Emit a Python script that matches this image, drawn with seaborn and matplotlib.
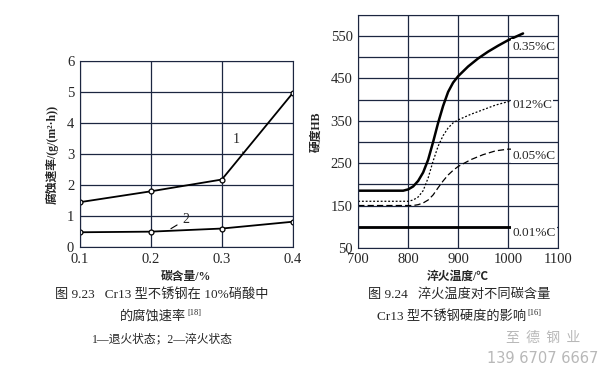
import numpy as np
import pandas as pd
import matplotlib
matplotlib.use("Agg")
import matplotlib.pyplot as plt
import seaborn as sns

# --- Fig 9.23: corrosion rate vs carbon content ---
carbon = [0.1, 0.2, 0.3, 0.4]
rate_annealed = [1.45, 1.8, 2.18, 4.97]   # 1 - annealed
rate_quenched = [0.48, 0.5, 0.6, 0.82]    # 2 - quenched

# --- Fig 9.24: hardness vs quench temperature ---
temp_035 = [700, 790, 800, 810, 820, 830, 840, 850, 860, 870, 880, 890, 900, 920, 940, 960, 980, 1000, 1030]
hb_035 = [185, 185, 188, 195, 208, 228, 258, 300, 345, 385, 418, 440, 455, 478, 497, 513, 527, 540, 556]
temp_012 = [700, 800, 810, 820, 830, 840, 850, 860, 870, 880, 890, 900, 925, 950, 975, 1000, 1010]
hb_012 = [160, 160, 163, 170, 185, 215, 255, 290, 315, 333, 345, 352, 365, 376, 387, 395, 398]
temp_005 = [700, 810, 820, 830, 840, 850, 860, 870, 880, 890, 900, 925, 950, 975, 1000, 1010]
hb_005 = [150, 150, 152, 156, 163, 175, 192, 208, 222, 233, 242, 258, 270, 279, 283, 283]
temp_001 = [700, 1010]
hb_001 = [100, 100]

df1 = pd.DataFrame({"c": carbon + carbon,
                    "rate": rate_annealed + rate_quenched,
                    "state": ["1"] * 4 + ["2"] * 4})

sns.set_style("white")
plt.rcParams["font.family"] = ["Liberation Serif", "Noto Sans CJK SC", "DejaVu Sans"]
plt.rcParams["axes.unicode_minus"] = False
grid_c = "#1c2640"
cjk = ["Liberation Serif", "Noto Sans CJK SC"]

fig = plt.figure(figsize=(6, 3.7), dpi=100)

# left chart
ax1 = fig.add_axes([0.133, 0.332, 0.355, 0.503])
sns.lineplot(data=df1, x="c", y="rate", units="state", estimator=None, color="black",
             lw=1.3, marker="o", markersize=3.5, markerfacecolor="white",
             markeredgecolor="black", markeredgewidth=0.9, ax=ax1)
ax1.set_xlim(0.1, 0.4)
ax1.set_ylim(0, 6)
ax1.set_xticks([0.1, 0.2, 0.3, 0.4])
ax1.set_yticks(range(0, 7))
ax1.grid(True, color=grid_c, lw=0.9)
ax1.set_axisbelow(True)
ax1.tick_params(length=0, labelsize=10.5, pad=4)
for s in ax1.spines.values():
    s.set_color(grid_c)
ax1.set_xlabel("碳含量/%", fontsize=8.5, fontweight="bold", family=cjk, labelpad=4)
ax1.set_ylabel("腐蚀速率/(g/(m²·h))", fontsize=8.5, fontweight="bold", family=cjk, labelpad=6)
ax1.annotate("1", xy=(0.33, 3.05), xytext=(0.315, 3.35), fontsize=10,
             arrowprops=dict(arrowstyle="-", color="black", lw=0.8))
ax1.annotate("2", xy=(0.225, 0.55), xytext=(0.245, 0.78), fontsize=10,
             arrowprops=dict(arrowstyle="-", color="black", lw=0.8))

# right chart
ax2 = fig.add_axes([0.597, 0.330, 0.333, 0.630])
sns.lineplot(x=temp_035, y=hb_035, color="black", lw=1.8, ax=ax2)
sns.lineplot(x=temp_012, y=hb_012, color="black", lw=0.9, linestyle=(0, (1.5, 1.5)), ax=ax2)
sns.lineplot(x=temp_005, y=hb_005, color="black", lw=0.9, linestyle=(0, (5, 2.5)), ax=ax2)
sns.lineplot(x=temp_001, y=hb_001, color="black", lw=2.0, ax=ax2)
ax2.set_xlim(700, 1100)
ax2.set_ylim(50, 600)
ax2.set_xticks([700, 800, 900, 1000, 1100])
ax2.set_yticks(range(50, 601, 50))
ax2.set_yticklabels([str(v) if v % 100 == 50 and v < 600 else "" for v in range(50, 601, 50)])
ax2.grid(True, color=grid_c, lw=0.9)
ax2.set_axisbelow(True)
ax2.tick_params(length=0, labelsize=10.5, pad=4)
for s in ax2.spines.values():
    s.set_color(grid_c)
ax2.set_xlabel("淬火温度/℃", fontsize=8.5, fontweight="bold", family=cjk, labelpad=3)
ax2.set_ylabel("硬度HB", fontsize=8.5, fontweight="bold", family=cjk, labelpad=6)
for lab, yv in [("0.35%C", 525), ("012%C", 387), ("0.05%C", 268), ("0.01%C", 84)]:
    ax2.text(1008, yv, lab, fontsize=9.5, va="center", ha="left",
             bbox=dict(facecolor="white", edgecolor="none", pad=1))

# captions
fig.text(0.27, 0.195, "图 9.23   Cr13 型不锈钢在 10%硝酸中", ha="center", fontsize=9.5, family=cjk)
t1 = fig.text(0.255, 0.135, "的腐蚀速率", ha="center", fontsize=9.5, family=cjk)
fig.text(0.27, 0.075, "1—退火状态；2—淬火状态", ha="center", fontsize=8.5, family=cjk)
fig.text(0.765, 0.195, "图 9.24   淬火温度对不同碳含量", ha="center", fontsize=9.5, family=cjk)
t2 = fig.text(0.752, 0.135, "Cr13 型不锈钢硬度的影响", ha="center", fontsize=9.5, family=cjk)
for t, ref in [(t1, "[18]"), (t2, "[16]")]:
    fig.add_artist(matplotlib.text.Annotation(ref, xy=(1, 0.45), xycoords=t, xytext=(1, 0),
                                              textcoords="offset points", va="bottom", ha="left",
                                              fontsize=6))

# watermark
fig.text(0.905, 0.075, "至  德  钢  业", ha="center", fontsize=10, color="#b8b8b8", family=["Noto Sans CJK SC"])
fig.text(0.905, 0.02, "139 6707 6667", ha="center", fontsize=10.5, color="#b8b8b8", family=["DejaVu Sans"])

fig.savefig("out.png", dpi=100)
